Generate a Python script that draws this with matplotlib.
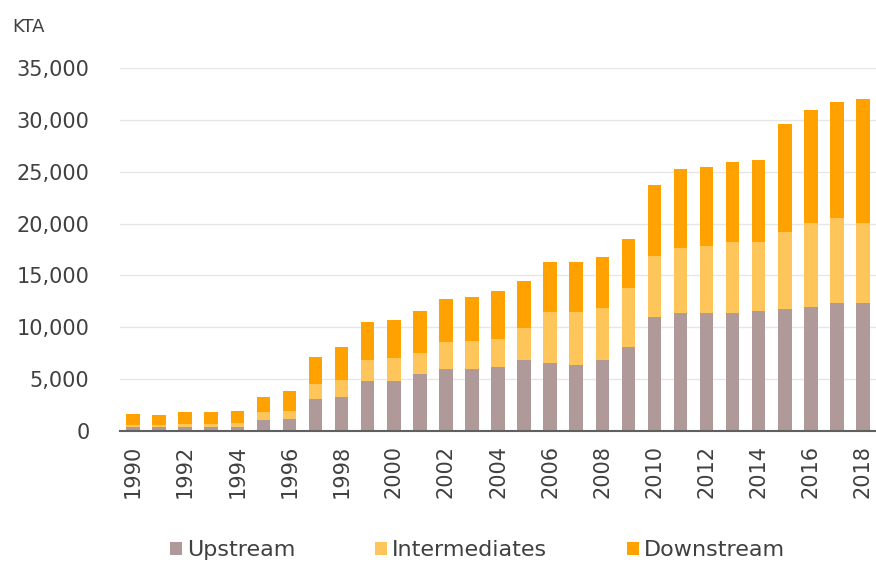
import numpy as np
import matplotlib.pyplot as plt
from matplotlib.ticker import FuncFormatter

# Data (KTA)
years = list(range(1990, 2019))
upstream = [350, 350, 400, 400, 400, 1050, 1200, 3100, 3300, 4850,
            4850, 5450, 6000, 6000, 6200, 6800, 6600, 6400, 6800, 8100,
            11000, 11400, 11400, 11400, 11600, 11800, 12000, 12350, 12350]
intermediates = [250, 250, 300, 300, 350, 750, 750, 1400, 1600, 2000,
                 2150, 2050, 2550, 2700, 2700, 3100, 4850, 5050, 5050, 5650,
                 5850, 6200, 6450, 6800, 6600, 7350, 8100, 8150, 7750]
downstream = [1000, 950, 1100, 1100, 1200, 1500, 1950, 2650, 3200, 3650,
              3700, 4100, 4200, 4250, 4600, 4600, 4800, 4800, 4950, 4800,
              6900, 7700, 7600, 7700, 7900, 10450, 10800, 11200, 11950]

COLOR_UP = "#B09A99"
COLOR_INT = "#FDC55A"
COLOR_DOWN = "#FFA200"
TEXT = "#404040"

plt.rcParams["font.family"] = ["DejaVu Sans"]

fig = plt.figure(figsize=(8.76, 5.65), dpi=100)
ax = fig.add_axes([0.137, 0.2372, 0.863, 0.6425])

x = np.arange(len(years))
up = np.array(upstream)
inter = np.array(intermediates)
down = np.array(downstream)
w = 0.52

ax.bar(x, up, w, color=COLOR_UP, label="Upstream", zorder=3)
ax.bar(x, inter, w, bottom=up, color=COLOR_INT, label="Intermediates", zorder=3)
ax.bar(x, down, w, bottom=up + inter, color=COLOR_DOWN, label="Downstream", zorder=3)

ax.set_xlim(-0.5, len(years) - 0.5)
ax.set_ylim(0, 35000)
ax.set_yticks(np.arange(0, 35001, 5000))
ax.yaxis.set_major_formatter(FuncFormatter(lambda v, p: f"{int(v):,}"))
ax.set_xticks(x[::2])
ax.set_xticklabels([str(y) for y in years[::2]], rotation=90)

ax.grid(axis="y", color="#E6E6E6", linewidth=1, zorder=0)
for s in ["top", "right", "left"]:
    ax.spines[s].set_visible(False)
ax.spines["bottom"].set_color("#606060")
ax.spines["bottom"].set_linewidth(1.5)
ax.spines["bottom"].set_zorder(4)
ax.tick_params(axis="both", length=0, labelsize=15, colors=TEXT)
ax.tick_params(axis="y", pad=22)
ax.tick_params(axis="x", pad=10)

fig.text(0.014, 0.952, "KTA", fontsize=13, color=TEXT, va="center", ha="left")

fig.legend(loc="center", bbox_to_anchor=(0.545, 0.026), ncol=3, frameon=False,
           fontsize=16, handlelength=0.55, handleheight=0.55, handletextpad=0.2,
           columnspacing=3.6, labelcolor=TEXT)

plt.savefig("out.png", dpi=100)
